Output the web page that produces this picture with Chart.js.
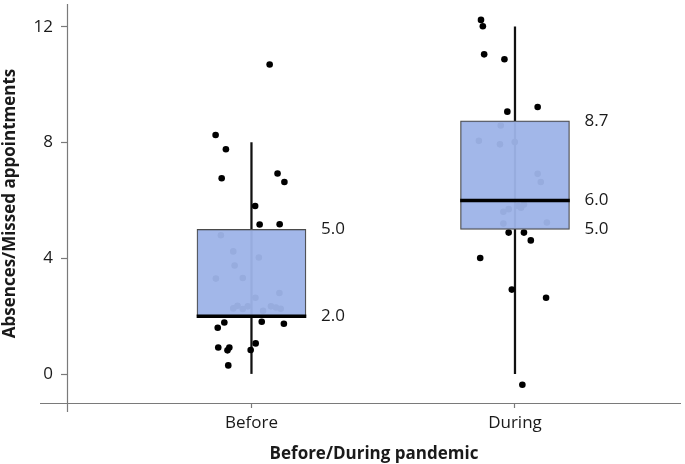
<!DOCTYPE html>
<html>
<head>
<meta charset="utf-8">
<script src="https://cdn.jsdelivr.net/npm/chart.js@4"></script>
<style>
  html, body { margin: 0; padding: 0; background: #fff; }
  #wrap { width: 685px; height: 464px; }
</style>
</head>
<body>
<div id="wrap"><canvas id="boxChart"></canvas></div>
<script>
// groups
let groups = ['Before', 'During'];
let groupPos = [1, 2];

// box stats per group
let whiskerLow = [0, 0];
let whiskerHigh = [8, 12];
let q1 = [2.0, 5.0];
let q3 = [5.0, 8.75];
let median = [2.0, 6.0];
let boxLabels = [['5.0', '2.0'], ['8.7', '6.0', '5.0']];
let boxLabelValues = [[5.0, 2.0], [8.75, 6.0, 5.0]];

let yTicks = [0, 4, 8, 12];

// jittered points (x jitter around group position, y value)
let beforeX = [1.069, 0.864, 0.903, 0.887, 1.099, 1.125, 1.014, 1.031, 1.107, 0.884, 0.931, 1.028, 0.936, 0.865, 0.967, 1.106,
  1.015, 0.931, 0.947, 0.967, 0.986, 1.044, 1.074, 1.093, 1.111, 0.897, 0.872, 1.039, 1.123, 0.874, 0.916, 0.909, 1.016, 0.997, 0.912];
let beforeY = [10.70, 8.26, 7.77, 6.77, 6.93, 6.64, 5.81, 5.17, 5.18, 4.80, 4.24, 4.03, 3.75, 3.30, 3.32, 2.80,
  2.64, 2.27, 2.36, 2.25, 2.34, 2.19, 2.34, 2.30, 2.26, 1.78, 1.60, 1.81, 1.74, 0.92, 0.92, 0.82, 1.06, 0.83, 0.30];
let duringX = [1.871, 1.878, 1.883, 1.960, 1.971, 2.086, 1.946, 1.863, 1.943, 1.999, 2.086, 2.098, 1.956, 1.976, 2.012, 2.023,
  2.034, 1.956, 2.121, 1.976, 2.034, 2.060, 1.868, 1.988, 2.118, 2.028];
let duringY = [12.24, 12.02, 11.05, 10.88, 9.07, 9.23, 8.59, 8.06, 7.94, 8.02, 6.92, 6.64, 5.61, 5.70, 5.81, 5.75,
  5.86, 5.20, 5.24, 4.89, 4.89, 4.62, 4.01, 2.92, 2.64, -0.37];

const BOX_FILL = 'rgba(158,180,232,0.955)';
const AXIS_COLOR = '#7a7a7a';
const FONT = "'Open Sans', 'Noto Sans', sans-serif";

function pts(xs, ys) {
  return xs.map(function (x, i) { return { x: x, y: ys[i] }; });
}

let points = pts(beforeX, beforeY).concat(pts(duringX, duringY));

// extended axis lines + value labels next to boxes
const extrasPlugin = {
  id: 'extras',
  afterDatasetsDraw(chart) {
    let ctx = chart.ctx;
    let area = chart.chartArea;
    let xs = chart.scales.x, ys = chart.scales.y;
    ctx.save();
    ctx.strokeStyle = AXIS_COLOR;
    ctx.lineWidth = 1.2;
    ctx.beginPath();
    ctx.moveTo(area.left - 27, area.bottom + 0.5);
    ctx.lineTo(area.right, area.bottom + 0.5);
    ctx.moveTo(area.left + 0.5, area.top);
    ctx.lineTo(area.left + 0.5, area.bottom + 9);
    ctx.stroke();

    ctx.fillStyle = '#1a1a1a';
    ctx.font = '17px ' + FONT;
    ctx.textBaseline = 'middle';
    ctx.textAlign = 'left';
    groupPos.forEach(function (g, gi) {
      let px = xs.getPixelForValue(g) + 54.5 + 15;
      boxLabels[gi].forEach(function (t, li) {
        ctx.fillText(t, px, ys.getPixelForValue(boxLabelValues[gi][li]));
      });
    });
    ctx.restore();
  }
};

new Chart(document.getElementById('boxChart').getContext('2d'), {
  type: 'bar',
  data: {
    datasets: [
      {
        type: 'bar',
        label: 'whisker',
        data: groupPos.map(function (g, i) { return { x: g, y: [whiskerLow[i], whiskerHigh[i]] }; }),
        backgroundColor: '#111',
        barThickness: 1.6,
        grouped: false,
        order: 4
      },
      {
        type: 'scatter',
        label: 'points',
        data: points,
        backgroundColor: '#000',
        borderColor: '#000',
        pointRadius: 3.3,
        pointBorderWidth: 0,
        order: 3
      },
      {
        type: 'bar',
        label: 'box',
        data: groupPos.map(function (g, i) { return { x: g, y: [q1[i], q3[i]] }; }),
        backgroundColor: BOX_FILL,
        borderColor: '#4a4a4a',
        borderWidth: 1.2,
        borderSkipped: false,
        barThickness: 109,
        grouped: false,
        order: 2
      },
      {
        type: 'bar',
        label: 'median',
        data: groupPos.map(function (g, i) { return { x: g, y: [median[i] - 0.05, median[i] + 0.05] }; }),
        backgroundColor: '#000',
        barThickness: 109,
        grouped: false,
        order: 1
      }
    ]
  },
  options: {
    responsive: true,
    maintainAspectRatio: false,
    animation: false,
    layout: { padding: 0 },
    plugins: {
      legend: { display: false },
      tooltip: { enabled: false }
    },
    scales: {
      x: {
        type: 'linear',
        offset: false,
        min: 0.30,
        max: 2.63,
        afterBuildTicks: function (scale) {
          scale.ticks = groupPos.map(function (v) { return { value: v }; });
        },
        afterFit: function (scale) {
          scale.height = 61;
          scale.paddingLeft = 0;
          scale.paddingRight = 0;
        },
        ticks: {
          callback: function (v) { return groups[groupPos.indexOf(v)]; },
          color: '#1a1a1a',
          font: { family: FONT, size: 17 },
          padding: 5,
          maxRotation: 0,
          autoSkip: false
        },
        grid: { offset: false, drawOnChartArea: false, tickLength: 5, color: AXIS_COLOR, tickWidth: 1.2 },
        border: { display: false },
        title: {
          display: true,
          text: 'Before/During pandemic',
          color: '#1a1a1a',
          font: { family: FONT, size: 17, weight: 'bold' },
          padding: { top: 2, bottom: 0 }
        }
      },
      y: {
        type: 'linear',
        min: -1,
        max: 12.79,
        afterBuildTicks: function (scale) {
          scale.ticks = yTicks.map(function (v) { return { value: v }; });
        },
        afterFit: function (scale) {
          scale.width = 67;
          scale.paddingTop = 0;
          scale.paddingBottom = 0;
        },
        ticks: {
          color: '#1a1a1a',
          font: { family: FONT, size: 17 },
          padding: 8
        },
        grid: { drawOnChartArea: false, tickLength: 6, color: AXIS_COLOR, tickWidth: 1.2 },
        border: { display: false },
        title: {
          display: true,
          text: 'Absences/Missed appointments',
          color: '#1a1a1a',
          font: { family: FONT, size: 17, weight: 'bold' },
          padding: { top: 0, bottom: 2 }
        }
      }
    }
  },
  plugins: [extrasPlugin]
});
</script>
</body>
</html>
